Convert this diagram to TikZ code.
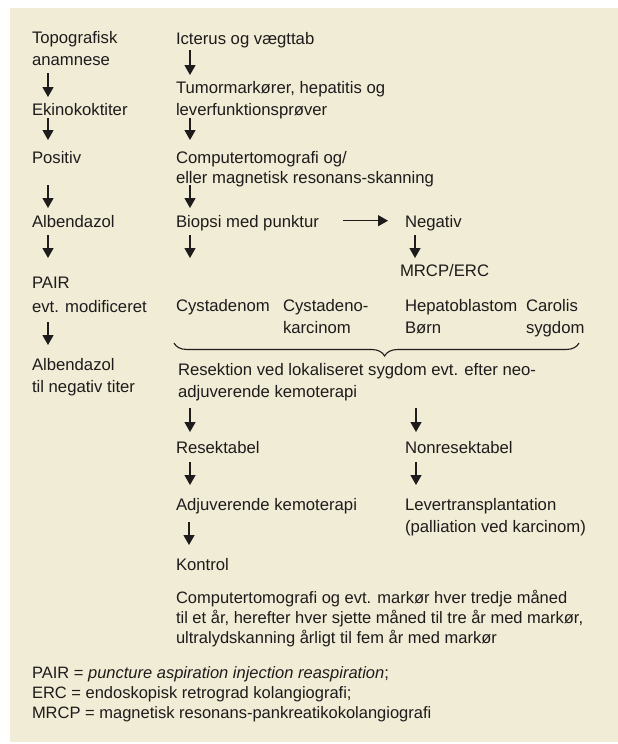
\documentclass[tikz,border=0pt]{standalone}
\usepackage{fontspec}
\setmainfont{Liberation Sans}
\usetikzlibrary{arrows.meta,decorations.pathreplacing,calc}
\definecolor{bg}{RGB}{241,236,213}
\definecolor{ink}{RGB}{30,27,28}
\begin{document}
\begin{tikzpicture}[x=1pt,y=-1pt,
  txt/.style={anchor=base west,inner sep=0pt,outer sep=0pt,text=ink,
    font=\fontsize{16.7}{22}\selectfont,align=left},
  tight/.style={font=\fontsize{16.5}{20}\selectfont},
  arr/.style={draw=ink,line width=1.3pt,-{Triangle[width=11pt,length=10pt]}},
  bracestyle/.style={draw=ink,line width=1.1pt,decorate,
    decoration={brace,mirror,amplitude=13pt,aspect=0.52}}]
\useasboundingbox (0,0) rectangle (618,744);
\fill[bg] (9.5,8) rectangle (618,742);
% left column (base anchor = last line)
\node[txt] (topo) at (32,65) {Topografisk\\anamnese};
\node[txt] (ekino) at (32,115) {Ekinokoktiter};
\node[txt] (positiv) at (32,163) {Positiv};
\node[txt] (albA) at (32,227) {Albendazol};
\node[txt] (pair) at (32,312) {PAIR\\[2pt]evt. modificeret};
\node[txt] (albB) at (32,392) {Albendazol\\til negativ titer};
% middle column
\node[txt] (icterus) at (176,44) {Icterus og vægttab};
\node[txt] (tumor) at (176,115) {Tumormarkører, hepatitis og\\leverfunktionsprøver};
\node[txt] (ct) at (176,183) {Computertomografi og/\\[-2pt]eller magnetisk resonans-skanning};
\node[txt] (biopsi) at (176,227) {Biopsi med punktur};
\node[txt] (negativ) at (405,227) {Negativ};
\node[txt] (mrcp) at (400,276) {MRCP/ERC};
\node[txt] (cyst) at (176,311) {Cystadenom};
\node[txt] (cystk) at (283,333) {Cystadeno-\\karcinom};
\node[txt] (hepato) at (405,333) {Hepatoblastom\\Børn};
\node[txt] (carolis) at (526,333) {Carolis\\sygdom};
\node[txt] (resek) at (178,397) {Resektion ved lokaliseret sygdom evt. efter neo-\\adjuverende kemoterapi};
\node[txt] (resektabel) at (176,453) {Resektabel};
\node[txt] (nonres) at (405,453) {Nonresektabel};
\node[txt] (adj) at (176,510) {Adjuverende kemoterapi};
\node[txt] (lever) at (405,532) {Levertransplantation\\(palliation ved karcinom)};
\node[txt] (kontrol) at (176,570) {Kontrol};
\node[txt,tight] (para) at (176,643) {Computertomografi og evt. markør hver tredje måned\\til et år, herefter hver sjette måned til tre år med markør,\\ultralydskanning årligt til fem år med markør};
\node[txt,tight] (notes) at (32,718) {PAIR = \textit{puncture aspiration injection reaspiration};\\ERC = endoskopisk retrograd kolangiografi;\\MRCP = magnetisk resonans-pankreatikokolangiografi};
% left arrows
\draw[arr] ($(topo.base west)+(16,8)$) -- ($(ekino.base west)+(16,-18)$);
\draw[arr] ($(ekino.base west)+(16,3)$) -- ($(positiv.base west)+(16,-23)$);
\draw[arr] ($(positiv.base west)+(16,22)$) -- ($(albA.base west)+(16,-19)$);
\draw[arr] ($(albA.base west)+(16,8)$) -- ($(pair.base west)+(16,-54)$);
\draw[arr] ($(pair.base west)+(16,10)$) -- ($(albB.base west)+(16,-47)$);
% middle arrows
\draw[arr] ($(icterus.base west)+(14,6)$) -- ($(tumor.base west)+(14,-40)$);
\draw[arr] ($(tumor.base west)+(14,3)$) -- ($(ct.base west)+(14,-43)$);
\draw[arr] ($(ct.base west)+(14,2)$) -- ($(biopsi.base west)+(14,-19)$);
\draw[arr] ($(biopsi.base west)+(14,8)$) -- ($(cyst.base west)+(14,-53)$);
\draw[arr] ($(biopsi.base west)+(167,-6.3)$) -- ($(negativ.base west)+(-17,-6.3)$);
\draw[arr] ($(negativ.base west)+(10,8)$) -- ($(mrcp.base west)+(15,-18)$);
% brace
\draw[bracestyle] ($(cyst.base west)+(-2,32)$) -- ($(carolis.base west)+(53,10)$);
% lower arrows
\draw[arr] ($(resek.base west)+(12,11)$) -- ($(resektabel.base west)+(14,-21)$);
\draw[arr] ($(resek.base west)+(238,11)$) -- ($(nonres.base west)+(11,-21)$);
\draw[arr] ($(resektabel.base west)+(14,9)$) -- ($(adj.base west)+(14,-25)$);
\draw[arr] ($(nonres.base west)+(11,9)$) -- ($(lever.base west)+(11,-47)$);
\draw[arr] ($(adj.base west)+(13,12)$) -- ($(kontrol.base west)+(13,-25)$);
\end{tikzpicture}
\end{document}
